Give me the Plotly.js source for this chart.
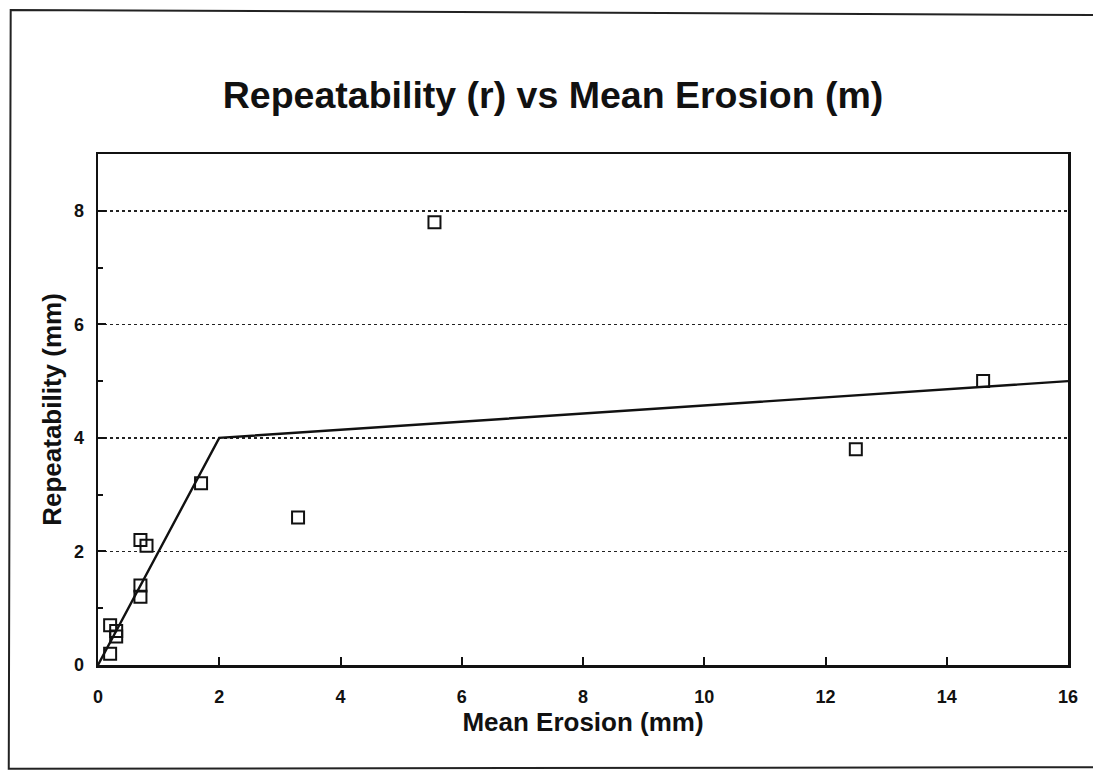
<!DOCTYPE html>
<html>
<head>
<meta charset="utf-8">
<script src="https://cdn.plot.ly/plotly-3.0.1.min.js"></script>
<style>
  html, body { margin: 0; padding: 0; background: #fff; }
  #chart { width: 1093px; height: 773px; }
</style>
</head>
<body>
<div id="chart"></div>
<script>
// Measured repeatability against mean erosion (mm)
const meanErosion   = [0.2, 0.2, 0.3, 0.3, 0.7, 0.7, 0.7, 0.8, 1.7, 3.3, 5.55, 12.5, 14.6];
const repeatability = [0.2, 0.7, 0.6, 0.5, 2.2, 1.4, 1.2, 2.1, 3.2, 2.6, 7.8, 3.8, 5.0];

// Two-segment fitted relation
const fitX = [0, 2, 16];
const fitY = [0, 4, 5];

const xTicks = [0, 2, 4, 6, 8, 10, 12, 14, 16];
const yTicks = [0, 2, 4, 6, 8];

const FONT = 'Liberation Sans, Arial, sans-serif';

const traces = [
  {
    x: fitX, y: fitY, type: 'scatter', mode: 'lines',
    line: { color: '#111', width: 2.4 },
    hoverinfo: 'skip', showlegend: false
  },
  {
    x: meanErosion, y: repeatability, type: 'scatter', mode: 'markers',
    marker: { symbol: 'square-open', size: 12, color: '#111', line: { width: 2, color: '#111' } },
    showlegend: false
  }
];

const layout = {
  width: 1093, height: 773,
  paper_bgcolor: '#fff', plot_bgcolor: '#fff',
  margin: { l: 98, r: 25, t: 154, b: 108 },
  font: { family: FONT, color: '#111' },
  title: {
    text: '<b>Repeatability (r) vs Mean Erosion (m)</b>',
    font: { family: FONT, size: 37.5, color: '#111' },
    xref: 'container', yref: 'container',
    x: 0.506, xanchor: 'center', y: 0.877, yanchor: 'middle'
  },
  xaxis: {
    range: [0, 16], tickvals: xTicks, ticktext: xTicks.map(String),
    ticks: 'inside', ticklen: 8, tickwidth: 2, tickcolor: '#111',
    ticklabelstandoff: 14,
    showgrid: false, zeroline: false,
    showline: true, linecolor: '#111', linewidth: 2.5, mirror: true,
    tickfont: { family: FONT, size: 18, color: '#111', weight: 'bold' },
    title: { text: '<b>Mean Erosion (mm)</b>', font: { family: FONT, size: 26, color: '#111' }, standoff: 6 }
  },
  yaxis: {
    range: [0, 9], tickvals: yTicks, ticktext: yTicks.map(String),
    ticks: 'inside', ticklen: 8, tickwidth: 2, tickcolor: '#111',
    ticklabelstandoff: 8,
    minor: { tickvals: [1, 3, 5, 7], ticks: 'inside', ticklen: 5, tickwidth: 2, tickcolor: '#111', showgrid: false },
    showgrid: true, gridcolor: '#222', griddash: 'dot', gridwidth: 1.6,
    zeroline: false,
    showline: true, linecolor: '#111', linewidth: 2.5, mirror: true,
    tickfont: { family: FONT, size: 18, color: '#111', weight: 'bold' },
    title: { text: '<b>Repeatability (mm)</b>', font: { family: FONT, size: 26, color: '#111' }, standoff: 5 }
  },
  shapes: [
    {
      // page border
      type: 'path', xref: 'paper', yref: 'paper',
      path: 'M 1.03 1.272 L -0.090 1.282 L -0.092 -0.203 L 1.03 -0.200',
      line: { color: '#222', width: 2 }
    }
  ]
};

Plotly.newPlot('chart', traces, layout, { displayModeBar: false, staticPlot: true });
</script>
</body>
</html>
